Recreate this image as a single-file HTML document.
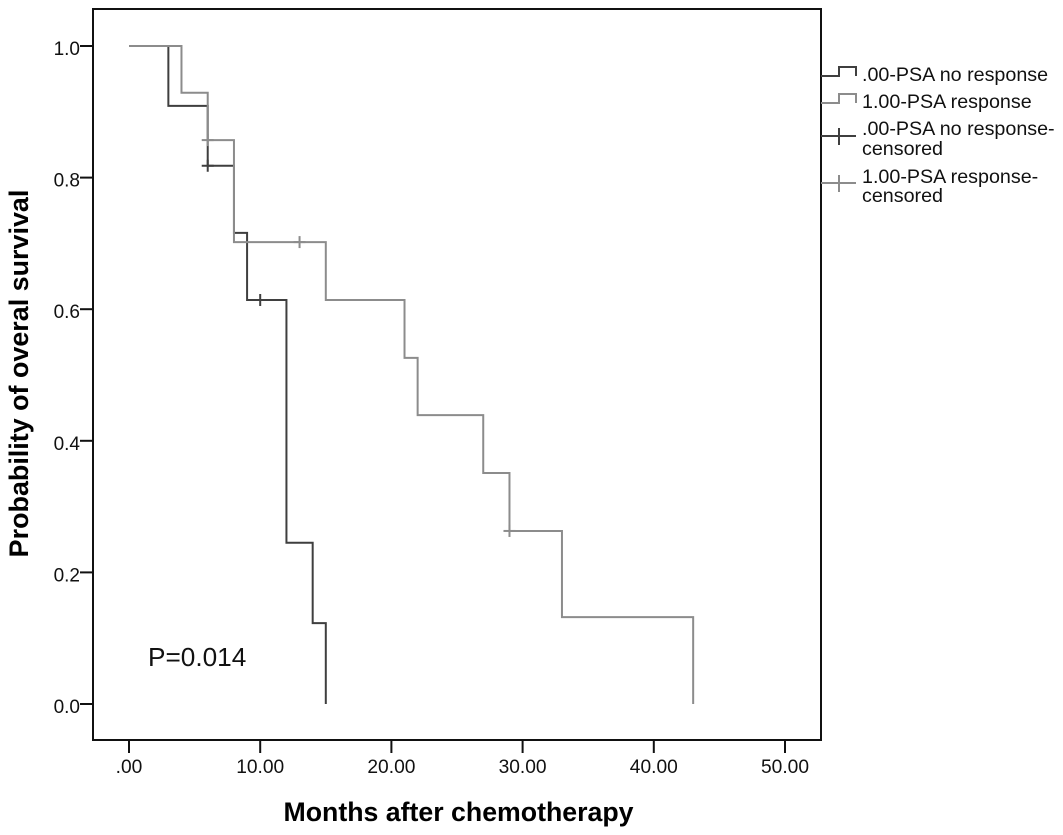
<!DOCTYPE html>
<html>
<head>
<meta charset="utf-8">
<style>
html,body{margin:0;padding:0;background:#fff;}
svg{display:block;font-family:"Liberation Sans",Arial,sans-serif;}
</style>
</head>
<body>
<svg id="chart" width="1063" height="835" viewBox="0 0 1063 835" xmlns="http://www.w3.org/2000/svg"></svg>
<script>
const xTicks = [0, 10, 20, 30, 40, 50];
const xTickLabels = ['.00', '10.00', '20.00', '30.00', '40.00', '50.00'];
const yTicks = [0, 0.2, 0.4, 0.6, 0.8, 1.0];
const yTickLabels = ['0.0', '0.2', '0.4', '0.6', '0.8', '1.0'];
const noResponseTimes = [0, 3, 6, 8, 9, 12, 14, 15];
const noResponseSurvival = [1, 0.909, 0.818, 0.716, 0.614, 0.245, 0.123, 0];
const responseTimes = [0, 4, 6, 8, 15, 21, 22, 27, 29, 33, 43];
const responseSurvival = [1, 0.929, 0.857, 0.702, 0.614, 0.526, 0.439, 0.351, 0.263, 0.132, 0];
const noResponseCensoredTimes = [6, 10];
const noResponseCensoredSurvival = [0.818, 0.614];
const responseCensoredTimes = [6, 13, 29];
const responseCensoredSurvival = [0.857, 0.702, 0.263];

const NS = 'http://www.w3.org/2000/svg';
const svg = document.getElementById('chart');
const DARK = '#3f3f3f';
const LIGHT = '#8c8c8c';
const AXIS = '#111';
function xPos(v){ return 129 + v * 13.12; }
function yPos(v){ return 704 - v * 658; }
function make(tag, attrs, parent){
  const el = document.createElementNS(NS, tag);
  for (const k in attrs) el.setAttribute(k, attrs[k]);
  (parent || svg).appendChild(el);
  return el;
}
function stepPath(ts, ss){
  let d = 'M' + xPos(ts[0]) + ' ' + yPos(ss[0]);
  for (let i = 1; i < ts.length; i++){
    d += ' H' + xPos(ts[i]) + ' V' + yPos(ss[i]);
  }
  return d;
}

const frame = make('rect', {x:93, y:9, width:728, height:731, fill:'none', stroke:AXIS, 'stroke-width':2});



xTicks.forEach(function(t, i){
  const tick = make('line', {x1:xPos(t), x2:xPos(t), y1:740, y2:753, stroke:AXIS, 'stroke-width':2});
  
  
  const label = make('text', {x:xPos(t), y:773, 'text-anchor':'middle', 'font-size':19.2, fill:'#111'});
  label.textContent = xTickLabels[i];
  
  
});
yTicks.forEach(function(v, i){
  const tick = make('line', {x1:80, x2:93, y1:yPos(v), y2:yPos(v), stroke:AXIS, 'stroke-width':2});
  
  
  const label = make('text', {x:80, y:yPos(v) + 9, 'text-anchor':'end', 'font-size':19, fill:'#111'});
  label.textContent = yTickLabels[i];
  
  
});

const darkLine = make('path', {d:stepPath(noResponseTimes, noResponseSurvival), fill:'none', stroke:DARK, 'stroke-width':2});


noResponseCensoredTimes.forEach(function(t, i){
  const m = make('line', {x1:xPos(t), x2:xPos(t), y1:yPos(noResponseCensoredSurvival[i]) - 6, y2:yPos(noResponseCensoredSurvival[i]) + 6, stroke:DARK, 'stroke-width':2});
  
  
  const h = make('line', {x1:xPos(t) - 6, x2:xPos(t) + 6, y1:yPos(noResponseCensoredSurvival[i]), y2:yPos(noResponseCensoredSurvival[i]), stroke:DARK, 'stroke-width':2});
  
  
});
const lightLine = make('path', {d:stepPath(responseTimes, responseSurvival), fill:'none', stroke:LIGHT, 'stroke-width':2});


responseCensoredTimes.forEach(function(t, i){
  const m = make('line', {x1:xPos(t), x2:xPos(t), y1:yPos(responseCensoredSurvival[i]) - 6, y2:yPos(responseCensoredSurvival[i]) + 6, stroke:LIGHT, 'stroke-width':2});
  
  
  const h = make('line', {x1:xPos(t) - 6, x2:xPos(t) + 6, y1:yPos(responseCensoredSurvival[i]), y2:yPos(responseCensoredSurvival[i]), stroke:LIGHT, 'stroke-width':2});
  
  
});
</script>
<script>
(function(){
  const NS = 'http://www.w3.org/2000/svg';
  const svg = document.getElementById('chart');
  function add(tag, attrs, txt, name){
    const el = document.createElementNS(NS, tag);
    for (const k in attrs) el.setAttribute(k, attrs[k]);
    if (txt) el.textContent = txt;
    
    
    svg.appendChild(el);
  }
  add('text', {x:148, y:666, 'font-size':26.2, fill:'#111'}, 'P=0.014', 'p-value-annotation');
  add('text', {x:458.5, y:821, 'text-anchor':'middle', 'font-size':26.7, 'font-weight':'bold', fill:'#000'}, 'Months after chemotherapy', 'x-axis-title');
  add('text', {x:0, y:0, transform:'translate(28,373.5) rotate(-90)', 'text-anchor':'middle', 'font-size':26.9, 'font-weight':'bold', fill:'#000'}, 'Probability of overal survival', 'y-axis-title');

  const DARK = '#3f3f3f', LIGHT = '#8c8c8c';
  const LEGEND_SIZE = 19.7;
  add('path', {d:'M821 76 H839 V67 H856 V76', fill:'none', stroke:DARK, 'stroke-width':2}, '', 'legend-symbol-no-response');
  add('text', {x:862, y:81, 'font-size':LEGEND_SIZE, fill:'#111'}, '.00-PSA no response', 'legend-label-no-response');
  add('path', {d:'M821 103 H839 V94 H856 V103', fill:'none', stroke:LIGHT, 'stroke-width':2}, '', 'legend-symbol-response');
  add('text', {x:862, y:108, 'font-size':LEGEND_SIZE, fill:'#111'}, '1.00-PSA response', 'legend-label-response');
  add('path', {d:'M821 136 H856 M839 128 V145', fill:'none', stroke:DARK, 'stroke-width':2}, '', 'legend-symbol-no-response-censored');
  add('text', {x:862, y:135, 'font-size':LEGEND_SIZE, fill:'#111'}, '.00-PSA no response-', 'legend-label-no-response-censored-line1');
  add('text', {x:862, y:155, 'font-size':LEGEND_SIZE, fill:'#111'}, 'censored', 'legend-label-no-response-censored-line2');
  add('path', {d:'M821 183 H856 M839 175 V192', fill:'none', stroke:LIGHT, 'stroke-width':2}, '', 'legend-symbol-response-censored');
  add('text', {x:862, y:183, 'font-size':LEGEND_SIZE, fill:'#111'}, '1.00-PSA response-', 'legend-label-response-censored-line1');
  add('text', {x:862, y:202, 'font-size':LEGEND_SIZE, fill:'#111'}, 'censored', 'legend-label-response-censored-line2');
})();
</script>
</body>
</html>
